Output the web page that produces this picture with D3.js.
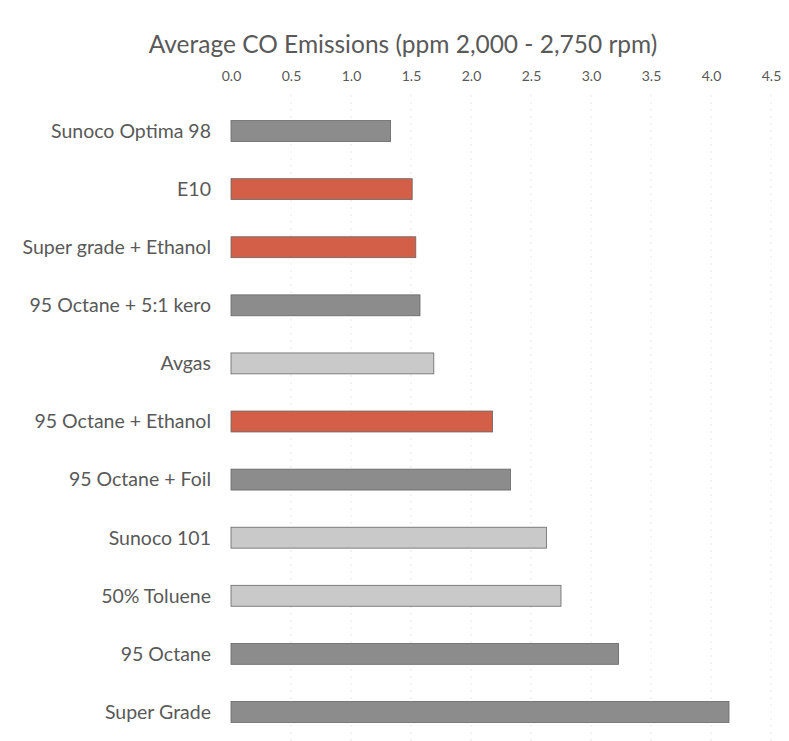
<!DOCTYPE html>
<html><head><meta charset="utf-8">
<script src="https://cdn.jsdelivr.net/npm/d3@7"></script>
<style>body{margin:0;background:#fff;} text{font-family:Lato,"Open Sans",sans-serif;}</style>
</head><body><svg id="c" width="789" height="741"></svg>
<script>
const categories = ["Sunoco Optima 98","E10","Super grade + Ethanol","95 Octane + 5:1 kero","Avgas","95 Octane + Ethanol","95 Octane + Foil","Sunoco 101","50% Toluene","95 Octane","Super Grade"];
const values = [1.33,1.51,1.54,1.575,1.69,2.18,2.33,2.63,2.75,3.23,4.15];
const groups = ["dark","red","red","dark","light","red","dark","light","light","dark","dark"];
const tickValues = [0,0.5,1,1.5,2,2.5,3,3.5,4,4.5];
const title = "Average CO Emissions (ppm 2,000 - 2,750 rpm)";

const colors = {dark:"#8c8c8c", red:"#d45f48", light:"#c9c9c9"};
const svg = d3.select("#c");
const x = d3.scaleLinear().domain([0,4.5]).range([231,771]);
const y = d3.scaleBand().domain(categories).range([102,741]).paddingInner(0.64).paddingOuter(0.32);

svg.append("text").attr("x",403).attr("y",53).attr("text-anchor","middle")
  .attr("font-size",24.5).attr("fill","#595959").text(title);

const g = svg.append("g").attr("transform","translate(0,80)");
const ax = d3.axisTop(x).tickValues(tickValues).tickFormat(d3.format(".1f")).tickSize(0);
g.call(ax);
g.select(".domain").remove();
g.selectAll("text").attr("font-size",14).attr("fill","#595959").attr("font-family","Lato, sans-serif").attr("dy","0.32em");

svg.append("g").selectAll("line").data(tickValues.slice(1)).join("line")
  .attr("x1",d=>x(d)).attr("x2",d=>x(d)).attr("y1",95).attr("y2",741)
  .attr("stroke","#e8e8e8").attr("stroke-width",1).attr("stroke-dasharray","2,5");

svg.append("g").selectAll("rect").data(categories).join("rect")
  .attr("x",x(0)).attr("y",d=>y(d)).attr("width",(d,i)=>x(values[i])-x(0)).attr("height",y.bandwidth())
  .attr("fill",(d,i)=>colors[groups[i]]).attr("stroke","#666").attr("stroke-width",0.8);

svg.append("g").selectAll("text").data(categories).join("text")
  .attr("x",211).attr("y",d=>y(d)+y.bandwidth()/2).attr("dy","0.35em").attr("text-anchor","end")
  .attr("font-size",19.5).attr("fill","#595959").text(d=>d);
</script></body></html>
